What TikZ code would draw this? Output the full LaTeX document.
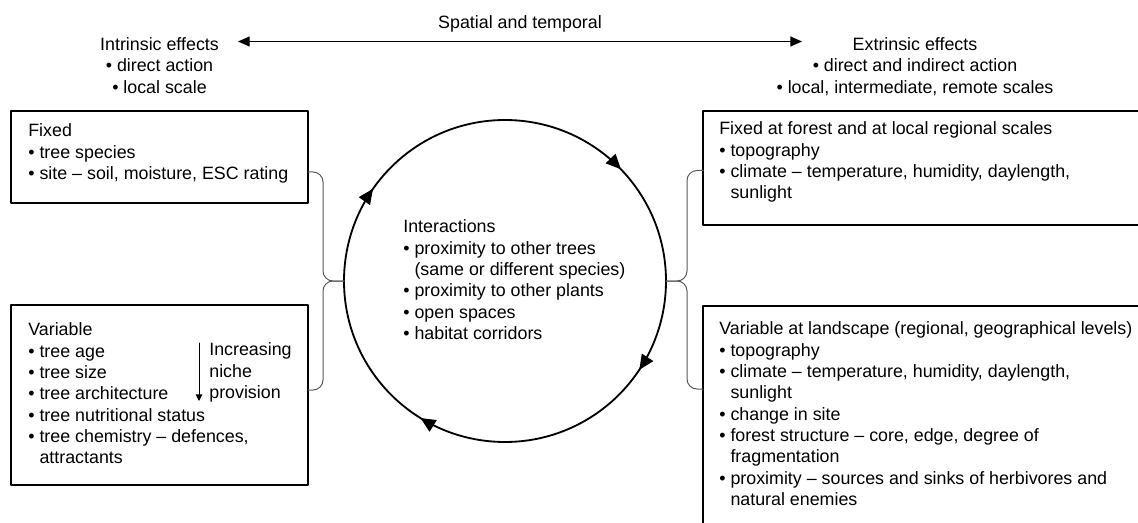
\documentclass[tikz,border=0pt]{standalone}
\usepackage{fontspec}
\setmainfont{Liberation Sans}
\usetikzlibrary{arrows.meta,calc,positioning,decorations.markings}
\newcommand{\itm}{\textbullet\ }
\newcommand{\cnt}{\hphantom{\textbullet\ }}
\tikzset{
  panel/.style={draw,line width=1.4pt,inner sep=0pt,outer sep=0pt},
  panel text/.style={anchor=north west,align=left,inner sep=0pt},
  brace line/.style={line width=.6pt,draw=black!65,rounded corners=6pt},
  span arrow/.style={line width=.8pt,>={Triangle[length=7pt,width=6pt]},<->},
  niche arrow/.style={line width=.5pt,->,>={Triangle[length=4pt,width=4pt]}},
  cycle line/.style={line width=1.1pt,postaction=decorate,
    decoration={markings,
      mark=at position .093 with {\arrow{Triangle[length=9pt,width=8pt]}},
      mark=at position .338 with {\arrow{Triangle[length=9pt,width=8pt]}},
      mark=at position .597 with {\arrow{Triangle[length=9pt,width=8pt]}},
      mark=at position .878 with {\arrow{Triangle[length=9pt,width=8pt]}}}}
}

\begin{document}
\begin{tikzpicture}[x=0.6pt,y=-0.6pt,line cap=round,line join=round,
    font=\fontsize{10.7}{12.8}\selectfont]
  \useasboundingbox (0,0) rectangle (1138,523);
  \clip (0,0) rectangle (1138,523);

  % Heading: the two kinds of effect and the span between them.
  \node[anchor=north] (spatial) at (520,9.6) {Spatial and temporal};
  \node[anchor=north,align=center] (intrinsic) at (159.5,31.6)
    {Intrinsic effects\\\itm direct action\\\itm local scale};
  \node[anchor=north,align=center] (extrinsic) at (915,31.6)
    {Extrinsic effects\\\itm direct and indirect action\\\itm local, intermediate, remote scales};
  \coordinate (spanL) at (238,41.5);
  \coordinate (spanR) at (802,41.5);
  \draw[span arrow] (spanL) -- (spanR);

  % Tree-level boxes on the left.
  \node[panel,minimum width=178.2pt,minimum height=55.2pt] (fixedtree) at (159.5,157) {};
  \node[panel,minimum width=178.2pt,minimum height=108pt] (vartree) at (159.5,395) {};
  \node[panel text] at (28,123.6)
    {Fixed\\\itm tree species\\\itm site \textendash{} soil, moisture, ESC rating};
  \node[panel text] at (28,322.6)
    {Variable\\\itm tree age\\\itm tree size\\\itm tree architecture\\\itm tree nutritional status\\
     \itm tree chemistry \textendash{} defences,\\\cnt attractants};
  \node[panel text] (niche) at (209,342.6) {Increasing\\niche\\provision};
  \coordinate (nicheTop) at (199,343);
  \coordinate (nicheBot) at (199,401);
  \draw[niche arrow] (nicheTop) -- (nicheBot);

  % Forest and landscape boxes on the right.
  \node[panel,minimum width=262.2pt,minimum height=68.4pt] (fixedforest) at (921.5,168) {};
  \node[panel,minimum width=262.2pt,minimum height=152.4pt] (varland) at (921.5,433) {};
  \node[panel text] at (719,121.6)
    {Fixed at forest and at local regional scales\\\itm topography\\
     \itm climate \textendash{} temperature, humidity, daylength,\\\cnt sunlight};
  \node[panel text] at (719,321.6)
    {Variable at landscape (regional, geographical levels)\\\itm topography\\
     \itm climate \textendash{} temperature, humidity, daylength,\\\cnt sunlight\\
     \itm change in site\\\itm forest structure \textendash{} core, edge, degree of\\\cnt fragmentation\\
     \itm proximity \textendash{} sources and sinks of herbivores and\\\cnt natural enemies};

  % The cycle of interactions.
  \node[circle,minimum size=193.2pt,inner sep=0pt,outer sep=0pt] (ring) at (505,281) {};
  \draw[cycle line] (ring.center) circle[radius=161];
  \node[panel text] (interact) at (403,219.6)
    {Interactions\\\itm proximity to other trees\\\cnt (same or different species)\\
     \itm proximity to other plants\\\itm open spaces\\\itm habitat corridors};

  % Braces joining the boxes to the cycle.
  \coordinate (braceL) at (323,281);
  \coordinate (braceR) at (687,281);
  \draw[brace line] ([yshift=-9pt]fixedtree.east) -| (braceL) -- (ring.west);
  \draw[brace line] ([yshift=3pt]vartree.east) -| (braceL) -- (ring.west);
  \draw[brace line] ([yshift=-1.5pt]fixedforest.west) -| (braceR) -- (ring.east);
  \draw[brace line] ([yshift=-49.8pt]varland.north west) -| (braceR) -- (ring.east);
\end{tikzpicture}
\end{document}
